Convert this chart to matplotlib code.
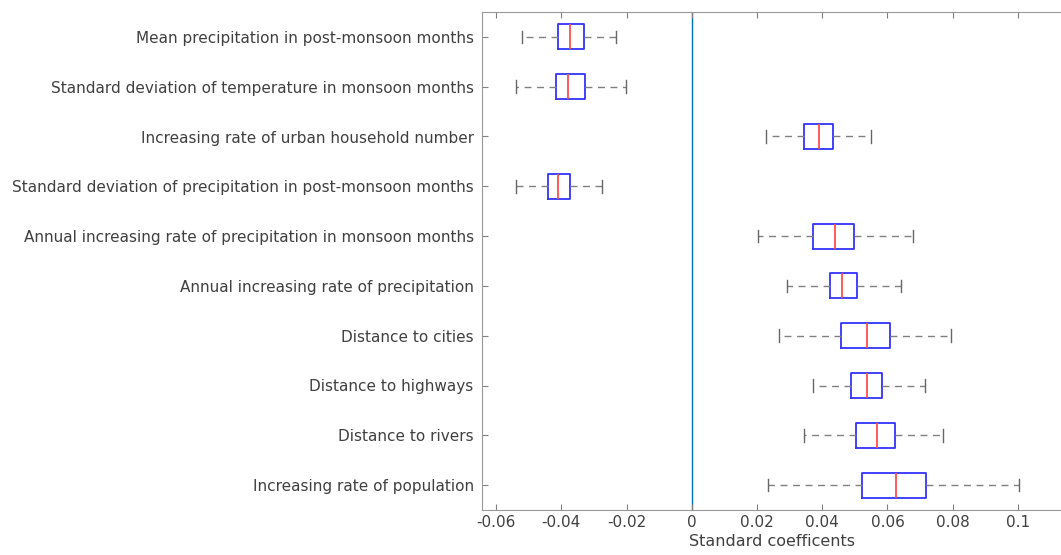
import matplotlib
matplotlib.use("Agg")
import matplotlib.pyplot as plt

# Variable names, top to bottom as shown in the chart.
labels = [
    "Mean precipitation in post-monsoon months",
    "Standard deviation of temperature in monsoon months",
    "Increasing rate of urban household number",
    "Standard deviation of precipitation in post-monsoon months",
    "Annual increasing rate of precipitation in monsoon months",
    "Annual increasing rate of precipitation",
    "Distance to cities",
    "Distance to highways",
    "Distance to rivers",
    "Increasing rate of population",
]

# Box statistics.
whislo = [-0.0521, -0.0540, 0.0227, -0.0540, 0.0204, 0.0292, 0.0266, 0.0371, 0.0344, 0.0234]
q1 = [-0.0410, -0.0416, 0.0345, -0.0442, 0.0371, 0.0423, 0.0457, 0.0488, 0.0504, 0.0521]
med = [-0.0373, -0.0379, 0.0389, -0.0410, 0.0439, 0.0461, 0.0536, 0.0537, 0.0567, 0.0626]
q3 = [-0.0329, -0.0328, 0.0432, -0.0372, 0.0496, 0.0506, 0.0609, 0.0583, 0.0624, 0.0717]
whishi = [-0.0231, -0.0202, 0.0549, -0.0274, 0.0677, 0.0642, 0.0794, 0.0715, 0.0770, 0.1002]

xticks = [-0.06, -0.04, -0.02, 0, 0.02, 0.04, 0.06, 0.08, 0.1]
xticklabels = ["-0.06", "-0.04", "-0.02", "0", "0.02", "0.04", "0.06", "0.08", "0.1"]

n = len(labels)
positions = list(range(n, 0, -1))

stats = []
for i in range(n):
    stats.append(dict(whislo=whislo[i], q1=q1[i], med=med[i], q3=q3[i],
                      whishi=whishi[i], fliers=[]))

fig = plt.figure(figsize=(10.61, 5.55), dpi=100)
ax = fig.add_axes([482 / 1061, 1 - 510 / 555, (1062 - 482) / 1061, 498 / 555])

ax.axvline(0, color=(0.0, 0.447, 0.741), lw=1.0, zorder=1)

ax.bxp(stats, positions=positions, vert=False, widths=0.5, capwidths=0.25,
       showfliers=False,
       boxprops=dict(color=(0.2, 0.2, 1.0), lw=1.3),
       medianprops=dict(color=(1.0, 0.3, 0.3), lw=1.3),
       whiskerprops=dict(color=(0.5, 0.5, 0.5), lw=1.0, linestyle=(0, (5, 4))),
       capprops=dict(color=(0.4, 0.4, 0.4), lw=1.0))

ax.set_xlim(-0.0643, 0.1135)
ax.set_ylim(0.5, n + 0.5)
ax.set_yticks(positions)
ax.set_yticklabels(labels)
ax.set_xticks(xticks)
ax.set_xticklabels(xticklabels)

for s in ax.spines.values():
    s.set_color((0.6, 0.6, 0.6))
ax.tick_params(direction="in", length=4, color=(0.5, 0.5, 0.5), labelcolor=(0.25, 0.25, 0.25),
               top=True, right=False)
ax.tick_params(axis="y", pad=6, labelsize=11)
ax.tick_params(axis="x", labelsize=11)
ax.set_xlabel("Standard coefficents", fontsize=11.5, color=(0.25, 0.25, 0.25), labelpad=3)

fig.savefig("out.png", dpi=100)
